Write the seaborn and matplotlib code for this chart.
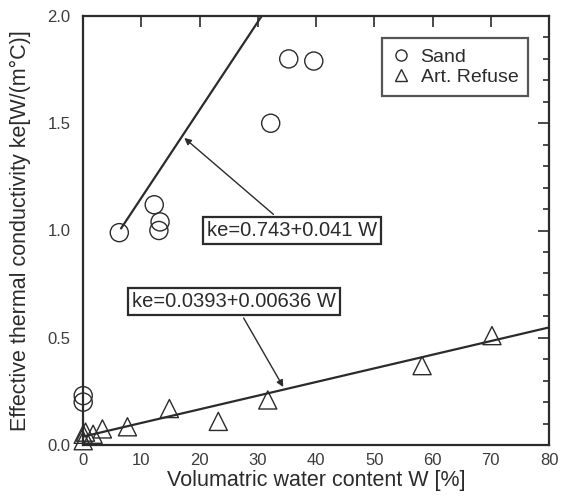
import matplotlib
matplotlib.use("Agg")
import matplotlib.pyplot as plt
from matplotlib.lines import Line2D
from matplotlib.ticker import MultipleLocator
import numpy as np
import pandas as pd
import seaborn as sns

# Measured effective thermal conductivity versus volumetric water content
sand_w = [0.0, 0.0, 6.2, 12.2, 13.2, 13.0, 32.2, 35.3, 39.6]
sand_ke = [0.23, 0.20, 0.99, 1.12, 1.04, 1.00, 1.50, 1.80, 1.79]
refuse_w = [0.0, 0.0, 0.4, 1.7, 3.3, 7.6, 14.8, 23.2, 31.7, 58.2, 70.2]
refuse_ke = [0.02, 0.05, 0.06, 0.05, 0.075, 0.085, 0.17, 0.11, 0.21, 0.37, 0.51]

# Linear fits  ke = a + b W
sand_fit = (0.743, 0.041)
refuse_fit = (0.0393, 0.00636)
sand_fit_range = [6.5, 47.0]
refuse_fit_range = [0.0, 80.0]

x_ticks = [0, 10, 20, 30, 40, 50, 60, 70, 80]
y_ticks = [0.0, 0.5, 1.0, 1.5, 2.0]

sns.set_theme(style="white")
plt.rcParams["font.family"] = ["Liberation Sans", "DejaVu Sans"]

ink = "#2b2b2b"
fig = plt.figure(figsize=(5.66, 5.0), dpi=100)
ax = fig.add_axes([0.147, 0.11, 0.823, 0.858])

df = pd.concat([
    pd.DataFrame({"W": sand_w, "ke": sand_ke, "material": "Sand"}),
    pd.DataFrame({"W": refuse_w, "ke": refuse_ke, "material": "Art. Refuse"}),
])

for name, mk in [("Sand", "o"), ("Art. Refuse", "^")]:
    sub = df[df["material"] == name]
    sns.scatterplot(data=sub, x="W", y="ke", marker=mk, s=170,
                    facecolor="none", edgecolor=ink, linewidth=1.0,
                    ax=ax, legend=False, zorder=3, clip_on=False)

# Fitted lines drawn from their equations
for (a, b), rng in [(sand_fit, sand_fit_range), (refuse_fit, refuse_fit_range)]:
    xs = np.array(rng)
    sns.lineplot(x=xs, y=a + b * xs, color=ink, linewidth=1.6, ax=ax, zorder=2)

ax.set_xlim(0, 80)
ax.set_ylim(0, 2.0)
ax.set_xticks(x_ticks)
ax.set_yticks(y_ticks)
ax.set_xticklabels([str(v) for v in x_ticks])
ax.set_yticklabels([f"{v:.1f}" for v in y_ticks])
ax.yaxis.set_minor_locator(MultipleLocator(0.1))
ax.tick_params(axis="both", which="both", direction="in", top=True, right=True,
               colors=ink, labelcolor="#3c3c3c", labelsize=12, width=1.2)
ax.tick_params(which="major", length=8, pad=6)
ax.tick_params(axis="y", which="major", pad=9)
ax.tick_params(which="minor", length=4)
for sp in ax.spines.values():
    sp.set_color(ink)
    sp.set_linewidth(1.6)

ax.set_xlabel("Volumatric water content W [%]", fontsize=15.5, color=ink, labelpad=1)
ax.set_ylabel("Effective thermal conductivity ke[W/(m\u00b0C)]", fontsize=15.5,
              color=ink, labelpad=12)

box = dict(boxstyle="square,pad=0.2", fc="white", ec=ink, lw=1.6)
arrow = dict(arrowstyle="-|>", color=ink, lw=1.0, mutation_scale=10)

a, b = sand_fit
w_s = 17.0
ax.annotate(f"ke={a}+{b} W", xy=(w_s, a + b * w_s), xytext=(35.9, 1.00),
            fontsize=14.5, color=ink, ha="center", va="center",
            bbox=box, arrowprops=arrow)

a, b = refuse_fit
w_r = 34.6
ax.annotate(f"ke={a}+{b} W", xy=(w_r, a + b * w_r), xytext=(25.9, 0.67),
            fontsize=14.5, color=ink, ha="center", va="center",
            bbox=box, arrowprops=arrow)

handles = [
    Line2D([], [], marker="o", ls="none", mfc="none", mec=ink, ms=8, mew=1.0),
    Line2D([], [], marker="^", ls="none", mfc="none", mec=ink, ms=8, mew=1.0),
]
leg = ax.legend(handles, ["Sand", "Art. Refuse"], loc="upper right",
                bbox_to_anchor=(0.955, 0.948), fontsize=14, frameon=True,
                fancybox=False, handlelength=1.0, handletextpad=0.5,
                borderpad=0.5, labelspacing=0.15, borderaxespad=0.0)
leg.get_frame().set_edgecolor(ink)
leg.get_frame().set_linewidth(1.6)
for t in leg.get_texts():
    t.set_color(ink)

fig.savefig("out.png", dpi=100)
